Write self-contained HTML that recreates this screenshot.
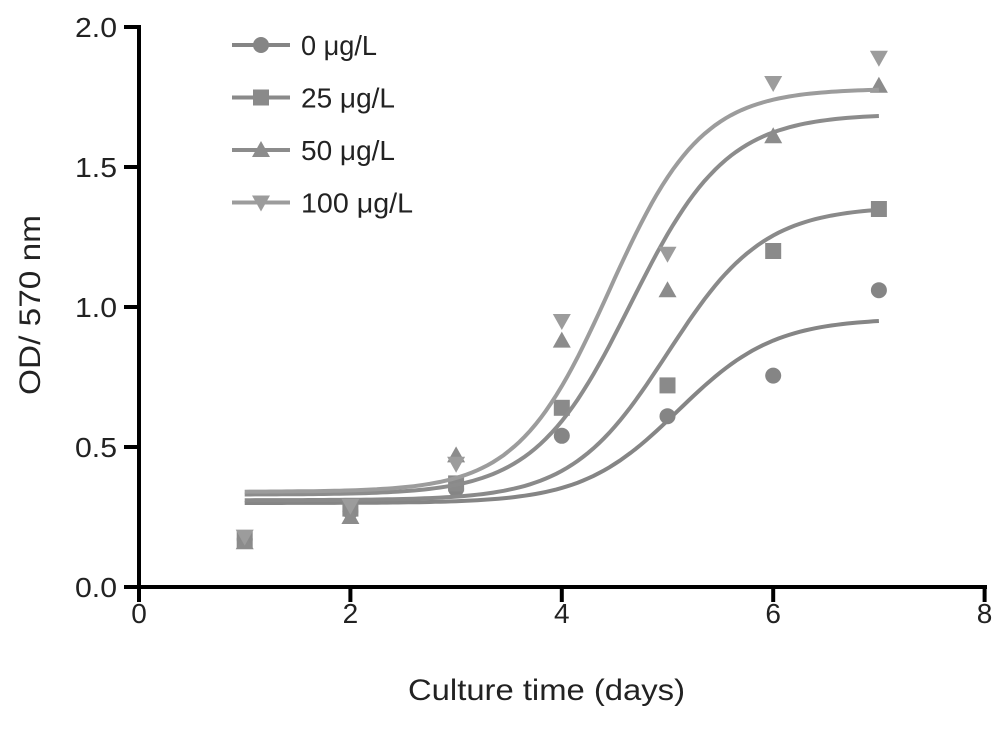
<!DOCTYPE html>
<html><head><meta charset="utf-8"><style>
body{margin:0;background:#fff}
text{font-family:"Liberation Sans",Arial,sans-serif}
</style></head><body>
<svg id="c" width="1004" height="724" xmlns="http://www.w3.org/2000/svg"></svg>
<script>
const days=[1,2,3,4,5,6,7];
const seriesLabels=["0 μg/L","25 μg/L","50 μg/L","100 μg/L"];
const s0=[0.17,0.27,0.35,0.54,0.61,0.755,1.06];
const s25=[0.17,0.28,0.37,0.64,0.72,1.20,1.35];
const s50=[0.16,0.25,0.47,0.88,1.06,1.61,1.79];
const s100=[0.18,0.29,0.44,0.95,1.19,1.80,1.89];
const fitBottom=[0.30,0.31,0.33,0.34];
const fitTop=[0.96,1.36,1.69,1.78];
const fitMid=[5.1,5.0,4.65,4.45];
const fitSlope=[2.2,2.2,2.2,2.3];
const xTicks=[0,2,4,6,8];
const yTicks=["0.0","0.5","1.0","1.5","2.0"];
const colors=["#858585","#8a8a8a","#8c8c8c","#9c9c9c"];
const shapes=["circle","square","tri","tridown"];
const NS="http://www.w3.org/2000/svg",svg=document.getElementById('c');
const X=v=>139+v*105.7, Y=v=>587-v*280;
function el(t,a,p){const e=document.createElementNS(NS,t);for(const k in a)e.setAttribute(k,a[k]);(p||svg).appendChild(e);return e;}
function marker(s,x,y,c,g){
 if(s=="circle")return el('circle',{cx:x,cy:y,r:8,fill:c},g);
 if(s=="square")return el('rect',{x:x-8,y:y-8,width:16,height:16,fill:c},g);
 if(s=="tri")return el('polygon',{points:`${x},${y-9} ${x-9},${y+7} ${x+9},${y+7}`,fill:c},g);
 return el('polygon',{points:`${x},${y+9} ${x-9},${y-7} ${x+9},${y-7}`,fill:c},g);
}
const data=[s0,s25,s50,s100];
data.forEach((s,i)=>{
 const g=el('g',{});
 
 
 let d="";
 for(let x=1;x<=7.0001;x+=0.05){const v=fitBottom[i]+(fitTop[i]-fitBottom[i])/(1+Math.exp(-fitSlope[i]*(x-fitMid[i])));d+=(d?"L":"M")+X(x).toFixed(1)+","+Y(v).toFixed(1);}
 const p=el('path',{d:d,fill:"none",stroke:colors[i],"stroke-width":4},g);
 
 
 s.forEach((v,j)=>{const m=marker(shapes[i],X(days[j]),Y(v),colors[i],g);
 
 });
});
const ax=el('g',{stroke:"#000","stroke-width":4});


el('line',{x1:139,y1:Y(2)-2,x2:139,y2:589},ax);
el('line',{x1:137,y1:587,x2:987,y2:587},ax);
xTicks.forEach(t=>{el('line',{x1:X(t),y1:587,x2:X(t),y2:602},ax);
 const tx=el('text',{x:X(t),y:623,"font-size":28,"text-anchor":"middle",fill:"#222",stroke:"none"});tx.textContent=t;
 
 });
yTicks.forEach(t=>{const y=Y(+t);el('line',{x1:124,y1:y,x2:139,y2:y},ax);
 const tx=el('text',{x:117,y:y+10,"font-size":28,"text-anchor":"end",fill:"#222",stroke:"none",textLength:42,lengthAdjust:"spacingAndGlyphs"});tx.textContent=t;
 
 });
const xt=el('text',{x:408,y:700,"font-size":30,fill:"#222",textLength:277,lengthAdjust:"spacingAndGlyphs"});xt.textContent="Culture time (days)";


const yt=el('text',{x:-395,y:40,"font-size":30,fill:"#222",transform:"rotate(-90)",textLength:180,lengthAdjust:"spacingAndGlyphs"});yt.textContent="OD/ 570 nm";


const legW=[76,94,94,112];
seriesLabels.forEach((l,i)=>{const y=45+i*52.5;const g=el('g',{});
 
 
 el('line',{x1:232,y1:y,x2:290,y2:y,stroke:colors[i],"stroke-width":4},g);
 marker(shapes[i],261,y,colors[i],g);
 const t=el('text',{x:301,y:y+10,"font-size":28,fill:"#222",textLength:legW[i],lengthAdjust:"spacingAndGlyphs"},g);t.textContent=l;});
</script>
</body></html>
